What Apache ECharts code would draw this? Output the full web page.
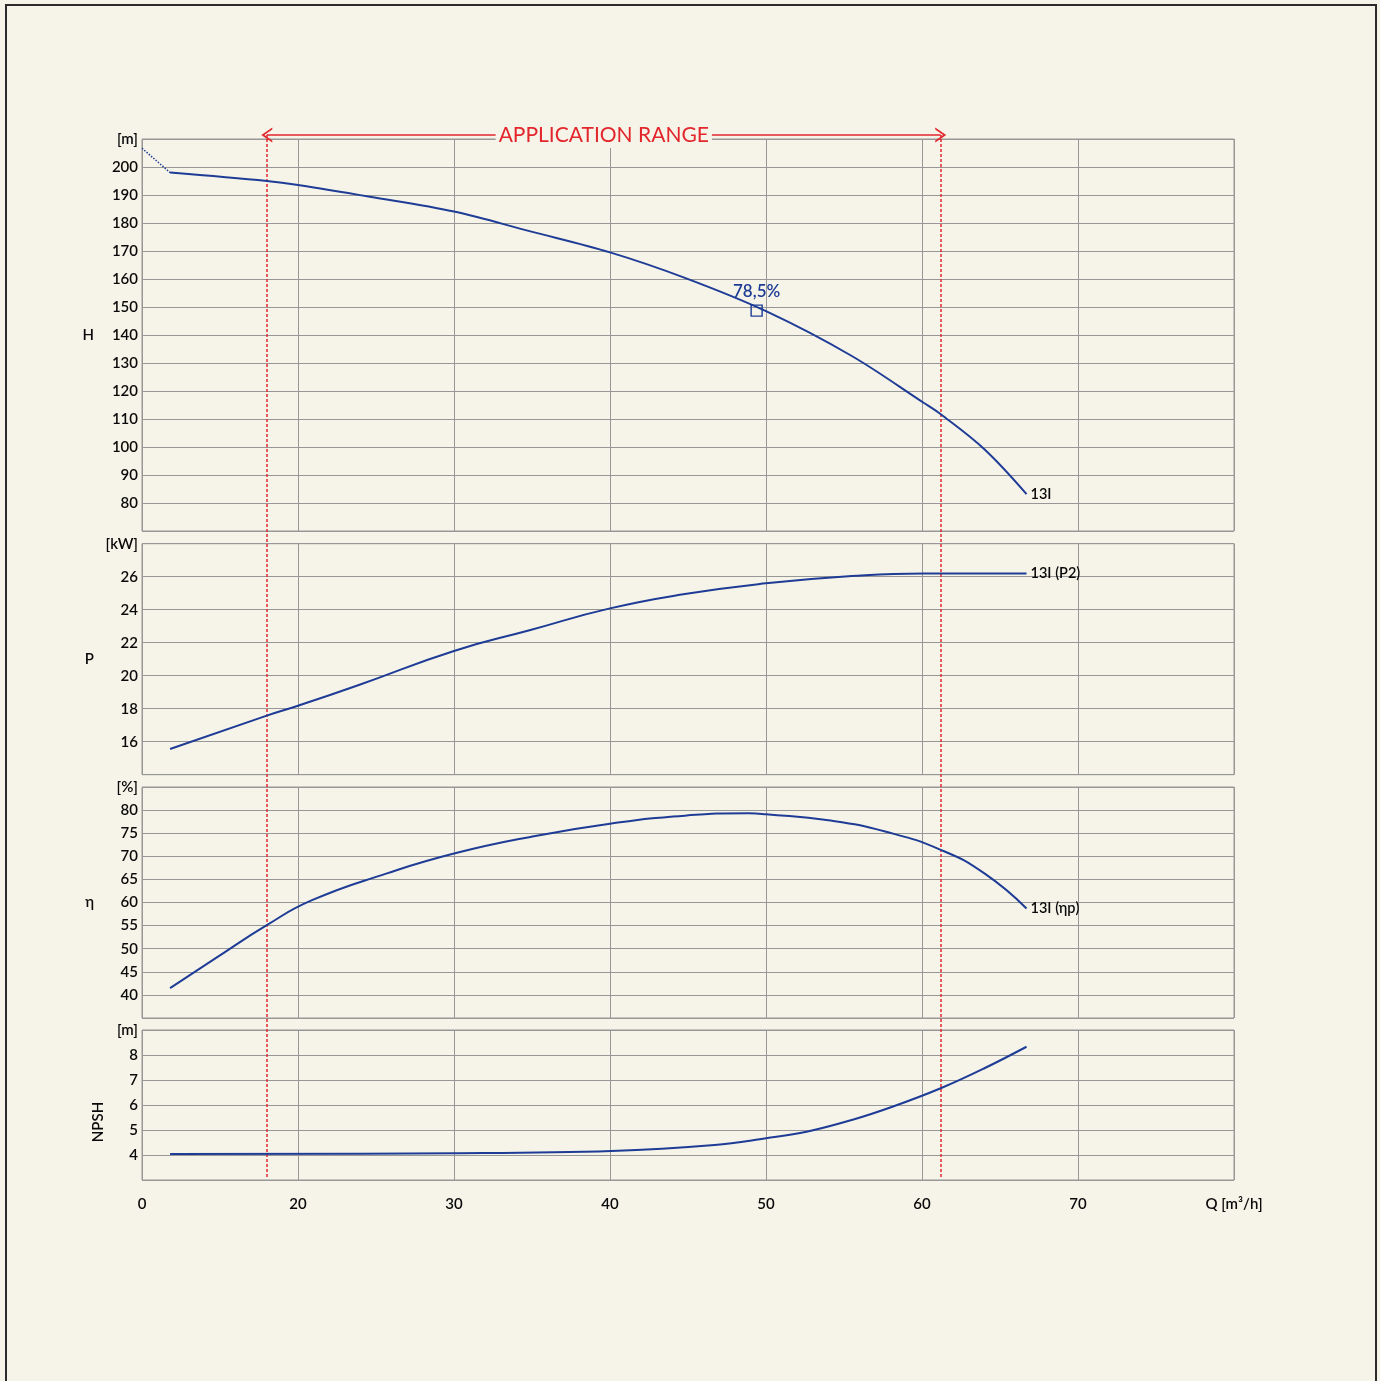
<!DOCTYPE html>
<html><head><meta charset="utf-8">
<script src="https://cdn.jsdelivr.net/npm/echarts@6/dist/echarts.min.js"></script>
<style>
html,body{margin:0;padding:0;background:#f6f4e9;overflow:hidden;}
#c{position:absolute;left:0;top:0;width:1380px;height:1381px;}
#frame{position:absolute;left:5px;top:4px;width:1368px;height:1400px;border:2px solid #2b2b2b;pointer-events:none;}
</style></head><body>
<div id="c"></div><div id="frame"></div>
<script>
// ---- data ----
const qShutoff = [0, 11.8];
const headShutoff = [206.7, 198.0];
const qH = [11.8, 18, 20, 24.6, 30, 34.9, 40, 44.8, 50, 55.5, 60.1, 61.2, 64, 66.7];
const headH = [198.0, 195.0, 193.6, 189.4, 184.1, 177.0, 169.5, 160.4, 148.5, 132.5, 115.8, 111.7, 99.2, 83.2];
const qP = [11.8, 18, 20, 23.9, 30, 34.9, 40, 44.8, 50, 55.5, 60.1, 66.7];
const powerP2 = [15.56, 17.58, 18.18, 19.44, 21.5, 22.77, 24.08, 24.95, 25.6, 26.04, 26.2, 26.2];
const qEta = [11.8, 14.7, 18, 20.9, 25.7, 30, 34.9, 40.1, 44.8, 48.9, 50, 54, 57.7, 61.2, 64, 66.7];
const etaP = [41.45, 47.9, 55.1, 60.5, 66.3, 70.6, 74.2, 77.1, 78.8, 79.3, 79.1, 77.8, 75.3, 71.4, 66.3, 58.7];
const qN = [11.8, 30, 40.1, 46.7, 50, 52.6, 55.5, 58.1, 61.2, 64, 66.7];
const npsh = [4.04, 4.07, 4.16, 4.4, 4.67, 4.93, 5.4, 5.93, 6.67, 7.47, 8.33];
const bep = {q: 49.4, h: 148.7, label: '78,5%'};
const appRange = [18, 61.2];
const xTickLabels = {0: '0', 20: '20', 30: '30', 40: '40', 50: '50', 60: '60', 70: '70', 80: 'Q [m³/h]'};
const curveNames = ['13I', '13I (P2)', '13I (ηp)'];

// ---- styles ----
const BLUE = '#1e3c96', RED = '#e2262c', GRID = '#979797', TXT = '#0a0a0a';
const FONT = 'Lato, "Open Sans", sans-serif';
const zip = (a, b) => a.map((v, i) => [v, b[i]]);
const xBreaks = [{start: 0, end: 10.5, gap: 0.5}];

const panels = [
  {top: 139, height: 392, min: 70, max: 210, interval: 10, unit: '[m]', name: 'H'},
  {top: 543.7, height: 231, min: 14, max: 28, interval: 2, unit: '[kW]', name: 'P'},
  {top: 787, height: 231, min: 35, max: 85, interval: 5, unit: '[%]', name: 'η'},
  {top: 1030, height: 150, min: 3, max: 9, interval: 1, unit: '[m]', name: 'NPSH'}
];

const grid = panels.map(p => ({left: 142, width: 1092, top: p.top, height: p.height,
  show: true, borderColor: GRID, borderWidth: 1, backgroundColor: 'transparent'}));
grid.push({left: 142, width: 1092, top: 135, height: 1042, show: false});

const xAxis = panels.map((p, i) => ({
  type: 'value', gridIndex: i, min: 0, max: 80, interval: 10,
  breaks: xBreaks, breakArea: {show: false}, breakLabelLayout: {moveOverlap: false},
  axisLine: {show: false}, axisTick: {show: false},
  splitLine: {show: true, lineStyle: {color: GRID, width: 1}},
  axisLabel: {show: i === 3, showMinLabel: true, showMaxLabel: true, hideOverlap: false,
    margin: 17, color: TXT, fontSize: 15, fontWeight: 600, fontFamily: FONT,
    formatter: v => (xTickLabels[v] !== undefined ? xTickLabels[v] : '')}
}));
xAxis.push({type: 'value', gridIndex: 4, min: 0, max: 80, breaks: xBreaks, breakArea: {show: false}, show: false});

const yAxis = panels.map((p, i) => ({
  type: 'value', gridIndex: i, min: p.min, max: p.max, interval: p.interval,
  name: p.name, nameLocation: 'middle', nameRotate: i === 3 ? 90 : 0,
  nameGap: i === 3 ? 36 : 48,
  nameTextStyle: {color: TXT, fontSize: 15, fontWeight: 600, fontFamily: FONT, padding: i === 3 ? [0, 34, 0, 0] : 0},
  axisLine: {show: false}, axisTick: {show: false},
  splitLine: {show: true, lineStyle: {color: GRID, width: 1}},
  axisLabel: {margin: 4, color: TXT, fontSize: 15, fontWeight: 600, fontFamily: FONT,
    formatter: v => (v === p.max ? p.unit : (v === p.min ? '' : String(v)))}
}));
yAxis.push({type: 'value', gridIndex: 4, min: 0, max: 1, show: false});

const curve = (i, data, label, smooth) => ({
  type: 'line', xAxisIndex: i, yAxisIndex: i, data, smooth, symbol: 'none',
  lineStyle: {color: BLUE, width: 2}, itemStyle: {color: BLUE}, z: 5,
  endLabel: label ? {show: true, formatter: label, color: TXT, fontSize: 14.5, fontWeight: 600, fontFamily: FONT, distance: 4} : {show: false}
});

const chevron = 'path://M0,10 L5,0 L10,10 L8.6,10 L5,2.8 L1.4,10 Z';

const series = [
  {type: 'line', xAxisIndex: 0, yAxisIndex: 0, data: zip(qShutoff, headShutoff), symbol: 'none',
    lineStyle: {color: BLUE, width: 1.5, type: 'dotted'}, z: 5},
  curve(0, zip(qH, headH), curveNames[0], 0.35),
  {type: 'scatter', xAxisIndex: 0, yAxisIndex: 0, data: [[bep.q, bep.h]], symbol: 'rect', symbolSize: 11,
    itemStyle: {color: 'rgba(0,0,0,0)', borderColor: BLUE, borderWidth: 1.4, opacity: 1}, z: 6,
    label: {show: true, position: 'top', distance: 4, formatter: bep.label, color: BLUE, fontSize: 17,
      fontWeight: 600, fontFamily: FONT, opacity: 1}},
  curve(1, zip(qP, powerP2), curveNames[1], 0.5),
  curve(2, zip(qEta, etaP), curveNames[2], 0.5),
  curve(3, zip(qN, npsh), null, 0.4),
  {type: 'line', xAxisIndex: 4, yAxisIndex: 4, data: [], z: 8, color: RED,
    markLine: {silent: true, symbol: 'none', animation: false,
      lineStyle: {color: RED, width: 1.5, type: [3, 2], opacity: 1}, label: {show: false},
      data: appRange.map(v => ({xAxis: v}))}},
  {type: 'line', xAxisIndex: 4, yAxisIndex: 4, data: [], z: 8, color: RED,
    markLine: {silent: true, animation: false, symbol: [chevron, chevron], symbolSize: [15, 11],
      itemStyle: {color: RED},
      lineStyle: {color: RED, width: 1.6, type: 'solid', opacity: 1},
      label: {show: true, position: 'middle', formatter: 'APPLICATION RANGE', color: RED, fontSize: 21,
        fontFamily: FONT, backgroundColor: '#f6f4e9', padding: [2, 3], distance: -13},
      data: [[{coord: [appRange[0], 1], lineStyle: {color: RED}}, {coord: [appRange[1], 1]}]]}}
];

const chart = echarts.init(document.getElementById('c'), null, {renderer: 'canvas'});
chart.setOption({backgroundColor: 'transparent', animation: false, grid, xAxis, yAxis, series});
</script>
</body></html>
